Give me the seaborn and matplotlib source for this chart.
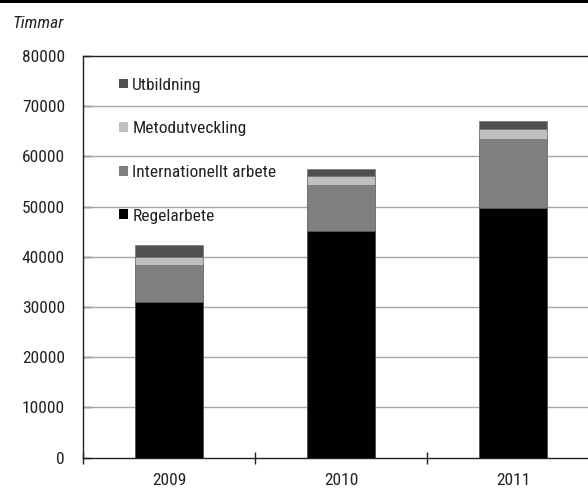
import matplotlib
matplotlib.use("Agg")
import matplotlib.pyplot as plt
from matplotlib.patches import Patch, Rectangle
import numpy as np
import pandas as pd
import seaborn as sns

# Hours per activity and year
years = ["2009", "2010", "2011"]
regelarbete = [31100, 45100, 49800]
internationellt = [7350, 9150, 13700]
metodutveckling = [1550, 1800, 2000]
utbildning = [2300, 1400, 1650]

series_names = ["Regelarbete", "Internationellt arbete", "Metodutveckling", "Utbildning"]
series_colors = ["#000000", "#808080", "#c0c0c0", "#505050"]
y_ticks = [0, 10000, 20000, 30000, 40000, 50000, 60000, 70000, 80000]

sns.set_theme(style="white")
plt.rcParams["font.family"] = ["Roboto Condensed", "DejaVu Sans"]

df = pd.DataFrame({
    "year": years,
    "Regelarbete": regelarbete,
    "Internationellt arbete": internationellt,
    "Metodutveckling": metodutveckling,
    "Utbildning": utbildning,
})
# cumulative heights for stacking
cum = df[series_names].cumsum(axis=1)

fig = plt.figure(figsize=(5.88, 4.88), dpi=100)
ax = fig.add_axes([83 / 588, 30.3 / 488, 516 / 588, 401.7 / 488])

# draw from the tallest stack down so each layer covers the one above it
for name, color in reversed(list(zip(series_names, series_colors))):
    sns.barplot(x=df["year"], y=cum[name], color=color, width=0.4,
                edgecolor="#6a6a6a", linewidth=0.4, ax=ax, zorder=3)

ax.set_xlim(-0.5, 2.5)
ax.set_ylim(0, 80000)
ax.set_yticks(y_ticks)
ax.set_yticklabels([str(v) for v in y_ticks])
ax.set_xlabel("")
ax.set_ylabel("")

# horizontal gridlines
for v in y_ticks[1:-1]:
    ax.axhline(v, color="#a6a6a6", lw=1.0, zorder=1)

for side in ["left", "bottom", "top"]:
    ax.spines[side].set_visible(True)
    ax.spines[side].set_color("#202020")
    ax.spines[side].set_linewidth(1.0)
ax.spines["right"].set_visible(False)

ax.tick_params(axis="y", direction="in", length=6, width=1.0, color="#202020",
               pad=13, labelsize=12.5, left=True, labelcolor="#222222")
ax.tick_params(axis="x", which="major", length=0, pad=11, labelsize=12.5,
               labelcolor="#222222")
ax.set_xticks([-0.5, 0.5, 1.5, 2.5], minor=True)
ax.tick_params(axis="x", which="minor", direction="inout", length=9, width=1.0,
               color="#202020", bottom=True)
for t in ax.yaxis.get_major_ticks():
    t.tick1line.set_zorder(4)

handles = [Patch(facecolor=c, edgecolor="none") for c in series_colors]
leg = ax.legend(handles[::-1], series_names[::-1], loc="upper left",
                bbox_to_anchor=(0.04, 0.985), frameon=False, fontsize=12.5,
                handlelength=0.5, handleheight=0.5, handletextpad=0.25,
                labelspacing=1.65, labelcolor="#222222")
leg.set_zorder(5)

fig.text(12 / 588, 1 - 23 / 488, "Timmar", style="italic", fontsize=12.5,
         va="center", ha="left", color="#222222")
fig.add_artist(Rectangle((0, 1 - 3 / 488), 1, 3 / 488, transform=fig.transFigure,
                         facecolor="black", edgecolor="none"))

fig.savefig("out.png", dpi=100)
